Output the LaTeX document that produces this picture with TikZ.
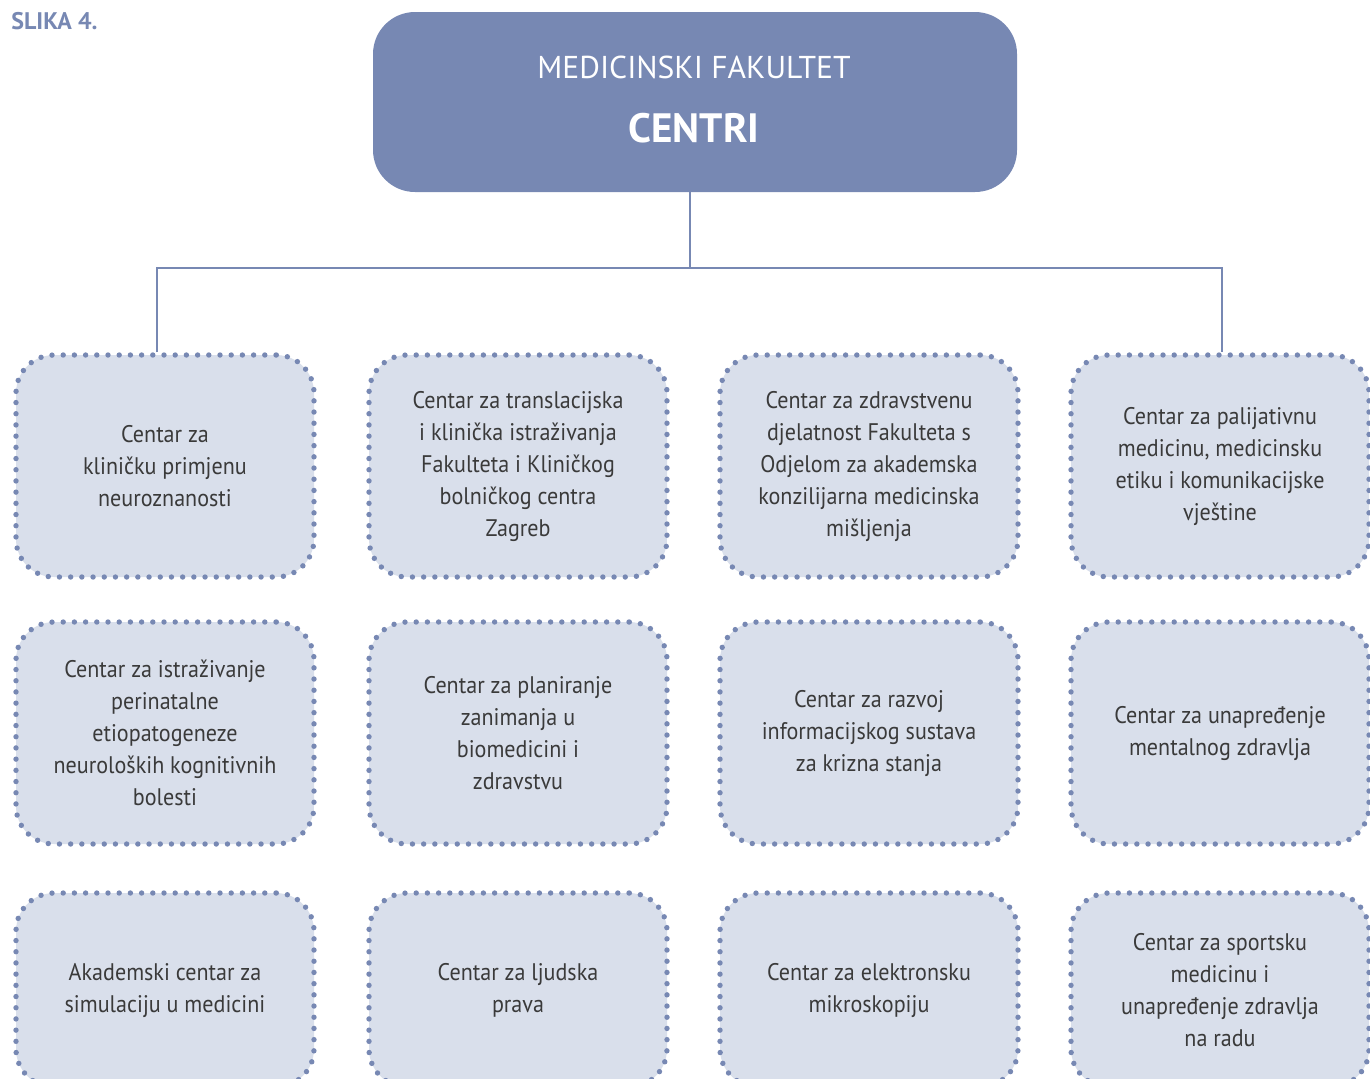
\documentclass[tikz,border=0pt]{standalone}
\usepackage{fontspec}
\setmainfont{PT Sans}
\newfontfamily\bodyfont[FakeStretch=0.92]{PT Sans}
\definecolor{mfblue}{RGB}{119,136,179}
\definecolor{mfpale}{RGB}{217,223,235}
\definecolor{mftext}{RGB}{58,58,58}
\tikzset{
  centar/.style={draw=mfblue, fill=mfpale, line width=2.7pt, line cap=round,
    dash pattern=on 0pt off 5.6pt, rounded corners=19pt, minimum width=149pt,
    minimum height=111pt, align=center, text=mftext,
    font=\bodyfont\fontsize{12}{16}\selectfont},
  lowrow/.style={centar, minimum height=97pt},
  link/.style={draw=mfblue, line width=1pt}
}
\begin{document}
\begin{tikzpicture}[x=0.5pt, y=-0.5pt]
\useasboundingbox (0,0) rectangle (1370,1078);
\clip (0,0) rectangle (1370,1078);
\node[anchor=base west, text=mfblue, font=\fontsize{12}{14}\selectfont\bfseries, inner sep=0pt] (slika) at (11,29) {SLIKA 4.};
\node[fill=mfblue, rounded corners=21pt, minimum width=322pt, minimum height=90pt] (head) at (695,102) {};
\node[text=white, font=\fontsize{15.8}{18}\selectfont] (headtop) at (694,67) {MEDICINSKI FAKULTET};
\node[text=white, font=\fontsize{20.5}{23}\selectfont\bfseries] (headbot) at (694,128) {CENTRI};
% row 1
\node[centar] (c11) at (165,466) {Centar za\\ kliničku primjenu\\ neuroznanosti};
\node[centar] (c12) at (518,466) {Centar za translacijska\\ i klinička istraživanja\\ Fakulteta i Kliničkog\\ bolničkog centra\\ Zagreb};
\node[centar] (c13) at (869,466) {Centar za zdravstvenu\\ djelatnost Fakulteta s\\ Odjelom za akademska\\ konzilijarna medicinska\\ mišljenja};
\node[centar] (c14) at (1220,466) {Centar za palijativnu\\ medicinu, medicinsku\\ etiku i komunikacijske\\ vještine};
% row 2
\node[centar] (c21) at (165,733) {Centar za istraživanje\\ perinatalne\\ etiopatogeneze\\ neuroloških kognitivnih\\ bolesti};
\node[centar] (c22) at (518,733) {Centar za planiranje\\ zanimanja u\\ biomedicini i\\ zdravstvu};
\node[centar] (c23) at (869,733) {Centar za razvoj\\ informacijskog sustava\\ za krizna stanja};
\node[centar] (c24) at (1220,733) {Centar za unapređenje\\ mentalnog zdravlja};
% row 3
\node[lowrow] (c31) at (165,990) {Akademski centar za\\ simulaciju u medicini};
\node[lowrow] (c32) at (518,990) {Centar za ljudska\\ prava};
\node[lowrow] (c33) at (869,990) {Centar za elektronsku\\ mikroskopiju};
\node[lowrow] (c34) at (1220,990) {Centar za sportsku\\ medicinu i\\ unapređenje zdravlja\\ na radu};
% connectors
\coordinate (bus) at (690,268);
\coordinate (left) at (157,268);
\coordinate (right) at (1222,268);
\draw[link] (head.south -| bus) -- (bus);
\draw[link] (c11.north -| left) |- (bus) -| (c14.north -| right);
\end{tikzpicture}
\end{document}
